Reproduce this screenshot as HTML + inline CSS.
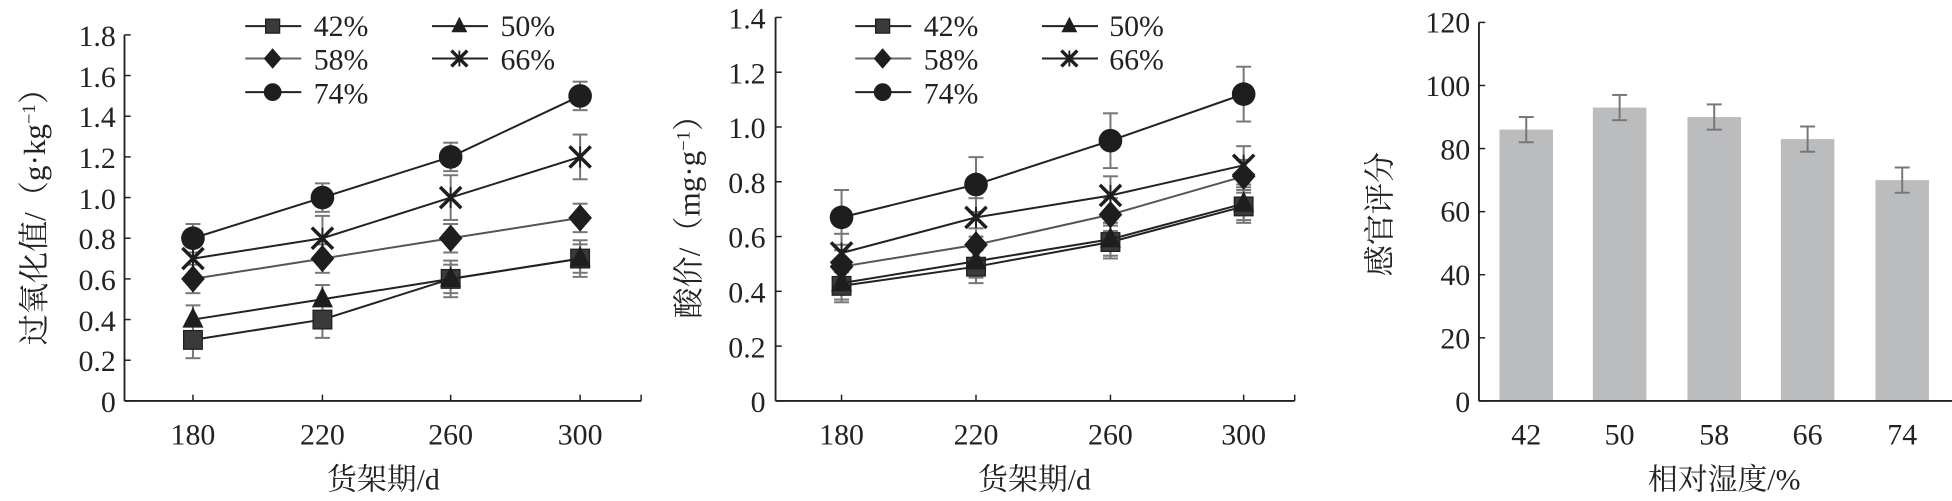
<!DOCTYPE html>
<html><head><meta charset="utf-8"><style>
html,body{margin:0;padding:0;background:#fff;}
svg{display:block;}
text{font-family:"Liberation Serif","Noto Serif CJK SC",serif;fill:#222;}
</style></head><body>
<svg id="s" width="1952" height="501" viewBox="0 0 1568 402.4" preserveAspectRatio="none" xmlns="http://www.w3.org/2000/svg">
<g id="shapes"></g>
<!-- Chart 1 text -->
<g font-size="24" text-anchor="end">
<text x="93" y="37">1.8</text><text x="93" y="70">1.6</text><text x="93" y="102">1.4</text><text x="93" y="135">1.2</text><text x="93" y="168">1.0</text><text x="93" y="200">0.8</text><text x="93" y="233">0.6</text><text x="93" y="266">0.4</text><text x="93" y="298">0.2</text><text x="93" y="331">0</text>
</g>
<g font-size="24" text-anchor="middle">
<text x="155" y="357">180</text><text x="259" y="357">220</text><text x="362" y="357">260</text><text x="466" y="357">300</text>
<text x="308" y="393">货架期/d</text>
</g>
<text font-size="25" transform="translate(36,168) rotate(-90)" text-anchor="middle">过氧化值/（g·kg<tspan baseline-shift="super" font-size="15">−1</tspan>）</text>
<g font-size="24">
<text x="252" y="29">42%</text><text x="252" y="56">58%</text><text x="252" y="83">74%</text>
<text x="402" y="29">50%</text><text x="402" y="56">66%</text>
</g>
<!-- Chart 2 text -->
<g font-size="24" text-anchor="end">
<text x="615" y="23">1.4</text><text x="615" y="67">1.2</text><text x="615" y="111">1.0</text><text x="615" y="155">0.8</text><text x="615" y="199">0.6</text><text x="615" y="243">0.4</text><text x="615" y="287">0.2</text><text x="615" y="331">0</text>
</g>
<g font-size="24" text-anchor="middle">
<text x="676" y="357">180</text><text x="784" y="357">220</text><text x="892" y="357">260</text><text x="999" y="357">300</text>
<text x="831" y="393">货架期/d</text>
</g>
<text font-size="25" transform="translate(562,168) rotate(-90)" text-anchor="middle">酸价/（mg·g<tspan baseline-shift="super" font-size="15">−1</tspan>）</text>
<g font-size="24">
<text x="742" y="29">42%</text><text x="742" y="56">58%</text><text x="742" y="83">74%</text>
<text x="891" y="29">50%</text><text x="891" y="56">66%</text>
</g>
<!-- Chart 3 text -->
<g font-size="24" text-anchor="end">
<text x="1181" y="26">120</text><text x="1181" y="77">100</text><text x="1181" y="128">80</text><text x="1181" y="178">60</text><text x="1181" y="229">40</text><text x="1181" y="280">20</text><text x="1181" y="331">0</text>
</g>
<g font-size="24" text-anchor="middle">
<text x="1226" y="357">42</text><text x="1301" y="357">50</text><text x="1377" y="357">58</text><text x="1452" y="357">66</text><text x="1528" y="357">74</text>
<text x="1385" y="393">相对湿度/%</text>
</g>
<text font-size="25" transform="translate(1117,172) rotate(-90)" text-anchor="middle">感官评分</text>
</svg>
<script>
const NS="http://www.w3.org/2000/svg",g=document.getElementById('shapes');
function el(t,a){const e=document.createElementNS(NS,t);for(const k in a)e.setAttribute(k,a[k]);g.appendChild(e);return e;}
function line(x1,y1,x2,y2,c,w){el('line',{x1,y1,x2,y2,stroke:c||'#222','stroke-width':w||1.6});}
function marker(t,x,y,s){
 const c='#1e1e1e';s=s||1;
 if(t=='sq')el('rect',{x:x-7.5*s,y:y-7.5*s,width:15*s,height:15*s,fill:'#3a3a3a',stroke:c,'stroke-width':1});
 if(t=='tri')el('polygon',{points:`${x},${y-10*s} ${x-8.5*s},${y+6.5*s} ${x+8.5*s},${y+6.5*s}`,fill:c});
 if(t=='dia')el('polygon',{points:`${x},${y-11*s} ${x+9.5*s},${y} ${x},${y+11*s} ${x-9.5*s},${y}`,fill:c});
 if(t=='cir')el('circle',{cx:x,cy:y,r:9.5*s,fill:c});
 if(t=='star'){const r=8.5*s;line(x-r,y-r,x+r,y+r,c,2.8);line(x-r,y+r,x+r,y-r,c,2.8);line(x,y-r,x,y+r,c,1.5);}
}
function err(x,y1,y2){line(x,y1,x,y2,'#777',1.6);line(x-6,y1,x+6,y1,'#777',1.6);line(x-6,y2,x+6,y2,'#777',1.6);}
function axes(x0,x1,y0,yTop,yt,xt){
 line(x0,yTop,x0,y0,'#222',1.5);line(x0,y0,x1,y0,'#222',1.5);
 yt.forEach(y=>line(x0,y,x0+5,y,'#222',1.2));xt.forEach(x=>line(x,y0,x,y0-5,'#222',1.2));
}
function chart(x0,x1,y0,yTop,nY,xs,scale,series,legX){
 const yt=[];for(let i=0;i<=nY;i++)yt.push(y0-(y0-yTop)*i/nY);
 axes(x0,x1,y0,yTop,yt,xs.concat([x1]));
 series.forEach(s=>{s.v.forEach((v,i)=>{const y=y0-v*scale;err(xs[i],y-s.e*scale,y+s.e*scale);});});
 series.forEach(s=>{for(let i=0;i<3;i++)line(xs[i],y0-s.v[i]*scale,xs[i+1],y0-s.v[i+1]*scale,s.c,1.6);
   s.v.forEach((v,i)=>marker(s.m,xs[i],y0-v*scale));});
 const L=[[legX,21,'sq'],[legX+150,21,'tri'],[legX,47,'dia'],[legX+150,47,'star'],[legX,74,'cir']];
 L.forEach((l,i)=>{line(l[0],l[1],l[0]+45,l[1],i==2?'#666':'#222',1.6);marker(l[2],l[0]+22,l[1],0.75);});
}
chart(100,515,322,28,9,[155,259,362,466],163.3,[
 {m:'sq',c:'#222',v:[0.3,0.4,0.6,0.7],e:0.09},
 {m:'tri',c:'#222',v:[0.4,0.5,0.6,0.7],e:0.07},
 {m:'dia',c:'#555',v:[0.6,0.7,0.8,0.9],e:0.07},
 {m:'star',c:'#222',v:[0.7,0.8,1.0,1.2],e:0.11},
 {m:'cir',c:'#222',v:[0.8,1.0,1.2,1.5],e:0.07}],197);
chart(623,1040,322,14,7,[676,784,892,999],220,[
 {m:'sq',c:'#222',v:[0.42,0.49,0.58,0.71],e:0.06},
 {m:'tri',c:'#222',v:[0.43,0.51,0.59,0.72],e:0.06},
 {m:'dia',c:'#555',v:[0.49,0.57,0.68,0.82],e:0.06},
 {m:'star',c:'#222',v:[0.54,0.67,0.75,0.86],e:0.07},
 {m:'cir',c:'#222',v:[0.67,0.79,0.95,1.12],e:0.1}],687);
const y0=322,sc=304/120,bx=[1226,1301,1377,1452,1528],bv=[86,93,90,83,70];
bx.forEach((x,i)=>{const y=y0-bv[i]*sc;el('rect',{x:x-21.5,y:y,width:43,height:bv[i]*sc,fill:'#bbbcbe'});
 err(x,y-4*sc,y+4*sc);});
const yt=[];for(let i=0;i<=6;i++)yt.push(y0-304*i/6);
line(1188,18,1188,y0,'#222',1.5);line(1188,y0,1568,y0,'#222',1.5);
yt.forEach(y=>line(1188,y,1193,y,'#222',1.2));
</script>
</body></html>
